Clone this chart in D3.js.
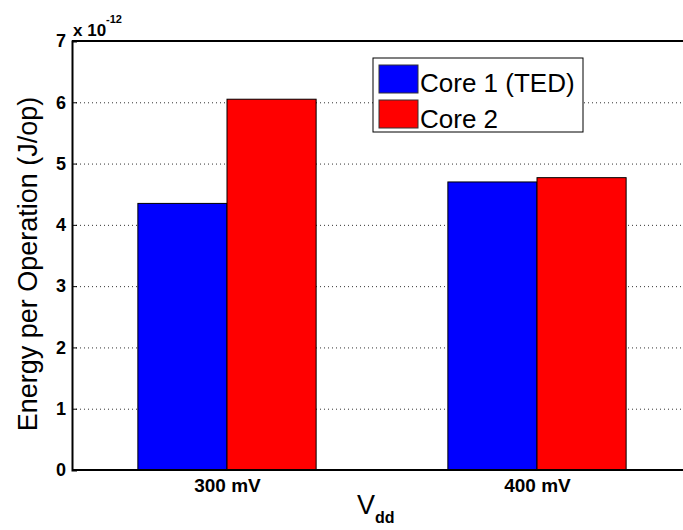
<!DOCTYPE html>
<html>
<head>
<meta charset="utf-8">
<script src="https://cdn.jsdelivr.net/npm/d3@7"></script>
<style>
  body { margin: 0; background: #fff; }
  svg text { font-family: "Liberation Sans", Arial, sans-serif; }
  .gridlines line { stroke: #333; stroke-dasharray: 1 3; stroke-width: 1; }
  .gridlines .domain { display: none; }
</style>
</head>
<body>
<svg id="chart" width="683" height="530"></svg>
<script>
// data (J/op)
const categories = ["300 mV", "400 mV"];
const seriesNames = ["Core 1 (TED)", "Core 2"];
const core1 = [4.35e-12, 4.70e-12];
const core2 = [6.05e-12, 4.77e-12];
const yTicks = [0, 1, 2, 3, 4, 5, 6, 7];
const colors = ["#0000ff", "#ff0000"];

const svg = d3.select("svg#chart");
const width = +svg.attr("width");
const margin = {top: 41, left: 72, bottom: 60};
const plotBottom = 530 - margin.bottom;
const scaleExp = 1e-12;

// MATLAB style x limits 0.5..2.5, right part clipped by the window
const x = d3.scaleLinear().domain([0.5, 2.5]).range([margin.left, margin.left + 620]);
const y = d3.scaleLinear().domain([0, 7]).range([plotBottom, margin.top]);
const barW = 0.2875;

// gridlines
svg.append("g")
  .attr("class", "gridlines")
  .attr("transform", `translate(${margin.left},0)`)
  .call(d3.axisLeft(y).tickValues(yTicks.slice(1, -1)).tickSize(-(width - margin.left)).tickFormat(""));

// bars
const rows = categories.map((c, i) => ({cat: c, pos: i + 1, vals: [core1[i], core2[i]]}));
const groups = svg.append("g").selectAll("g").data(rows).join("g");
groups.selectAll("rect")
  .data(d => d.vals.map((v, k) => ({pos: d.pos, v: v, k: k})))
  .join("rect")
  .attr("x", d => x(d.pos + (d.k - 1) * barW))
  .attr("width", d => x(barW) - x(0))
  .attr("y", d => y(d.v / scaleExp))
  .attr("height", d => plotBottom - y(d.v / scaleExp))
  .attr("fill", d => colors[d.k])
  .attr("stroke", "#000")
  .attr("stroke-width", 1);

// axes lines
svg.append("line").attr("x1", margin.left).attr("x2", width)
  .attr("y1", margin.top).attr("y2", margin.top).attr("stroke", "#000").attr("stroke-width", 2);
svg.append("line").attr("x1", margin.left).attr("x2", width)
  .attr("y1", plotBottom).attr("y2", plotBottom).attr("stroke", "#000").attr("stroke-width", 2);

const leftAxis = svg.append("g")
  .attr("transform", `translate(${margin.left},0)`)
  .call(d3.axisLeft(y).tickValues(yTicks).tickSize(-5).tickPadding(6).tickFormat(d3.format("d")));
leftAxis.select(".domain").attr("stroke-width", 2);
leftAxis.selectAll("text").attr("font-size", 18).attr("font-weight", "bold").attr("fill", "#000");

const bottomAxis = svg.append("g")
  .attr("transform", `translate(0,${plotBottom})`)
  .call(d3.axisBottom(x).tickValues(rows.map(d => d.pos)).tickSize(0).tickPadding(9)
    .tickFormat((d, i) => categories[i]));
bottomAxis.select(".domain").remove();
bottomAxis.selectAll("text").attr("font-size", 19).attr("font-weight", "bold").attr("fill", "#000");

// exponent label
const expo = svg.append("text").attr("x", 73).attr("y", 36)
  .attr("font-size", 17).attr("font-weight", "bold");
expo.append("tspan").text("x 10");
expo.append("tspan").attr("dy", -13).attr("font-size", 11).text("-12");

// axis titles
svg.append("text")
  .attr("transform", `translate(37,264) rotate(-90)`)
  .attr("text-anchor", "middle").attr("font-size", 27).text("Energy per Operation (J/op)");

const xt = svg.append("text").attr("x", 357).attr("y", 514).attr("font-size", 27);
xt.append("tspan").text("V");
xt.append("tspan").attr("dy", 9).attr("font-size", 16).attr("font-weight", "bold").text("dd");

// legend
const legend = svg.append("g").attr("transform", "translate(373,58)");
legend.append("rect").attr("width", 210).attr("height", 74)
  .attr("fill", "#fff").attr("stroke", "#000").attr("stroke-width", 1);
seriesNames.forEach((name, k) => {
  legend.append("rect").attr("x", 6).attr("y", 7 + k * 35).attr("width", 39).attr("height", 28)
    .attr("fill", colors[k]).attr("stroke", "#333").attr("stroke-width", 1);
  legend.append("text").attr("x", 47).attr("y", 34 + k * 36).attr("font-size", 26).text(name);
});
</script>
</body>
</html>
